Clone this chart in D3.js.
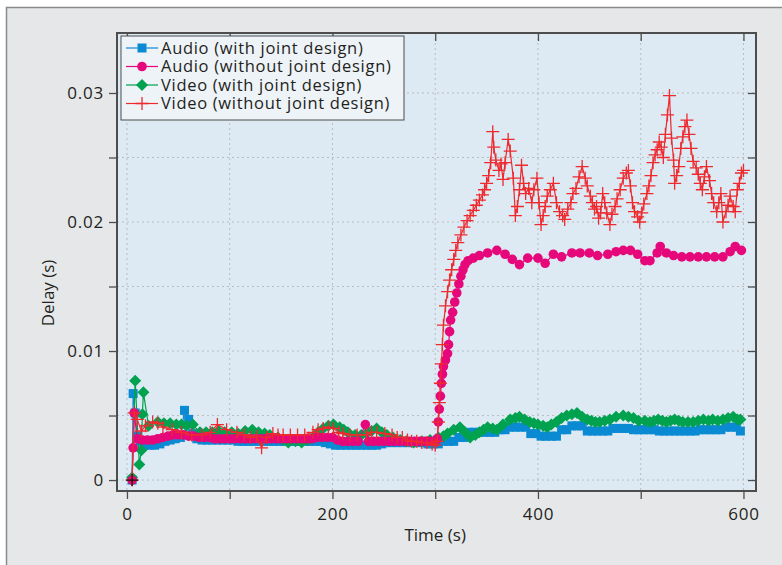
<!DOCTYPE html>
<html>
<head>
<meta charset="utf-8">
<script src="https://cdn.jsdelivr.net/npm/d3@7"></script>
<style>
  body { margin: 0; background: #fff; }
  svg text { font-family: "Open Sans", "Noto Sans", sans-serif; fill: #231f20; }
</style>
</head>
<body>
<div id="chart"></div>
<script>
// Data: [time (s), delay (s)]
var audioJoint = [
  [5,0],[6,0.0067],[8,0.0052],[10,0.0034],[13,0.003],[17,0.0027],[22,0.0027],[27,0.0027],
  [32,0.0028],[37,0.003],[42,0.0031],[47,0.0032],[52,0.0033],[56,0.0054],[60,0.0047],[64,0.0036],
  [68,0.0032],[73,0.0031],[78,0.0031],[83,0.0031],[88,0.0031],[93,0.0031],[98,0.0031],[103,0.0031],
  [108,0.003],[113,0.003],[118,0.003],[123,0.003],[128,0.003],[133,0.003],[138,0.003],[143,0.003],
  [148,0.003],[153,0.003],[158,0.003],[163,0.003],[168,0.003],[173,0.003],[178,0.003],[183,0.003],
  [188,0.003],[193,0.0029],[198,0.0028],[203,0.0027],[208,0.0027],[213,0.0027],[218,0.0027],
  [223,0.0027],[228,0.0027],[233,0.0027],[238,0.0027],[243,0.0027],[248,0.0028],[253,0.0029],
  [258,0.0029],[263,0.0029],[268,0.0029],[273,0.0029],[278,0.0029],[283,0.0029],[288,0.0029],
  [293,0.0028],[298,0.0028],[303,0.0028],[308,0.003],[313,0.003],[318,0.003],[323,0.0033],
  [328,0.0033],[333,0.0037],[338,0.0037],[343,0.0037],[348,0.0037],[353,0.0037],[358,0.0037],
  [363,0.0039],[368,0.0039],[373,0.0041],[378,0.0041],[383,0.0041],[388,0.0041],[393,0.0036],
  [398,0.0036],[403,0.0034],[408,0.0034],[413,0.0034],[418,0.0034],[423,0.0039],[428,0.0039],
  [433,0.0042],[438,0.0042],[443,0.0042],[448,0.0038],[453,0.0038],[458,0.0038],[463,0.0038],
  [468,0.0038],[473,0.004],[478,0.004],[483,0.004],[488,0.004],[493,0.0039],[498,0.0039],
  [503,0.0039],[508,0.0039],[513,0.0039],[518,0.0038],[523,0.0038],[528,0.0038],[533,0.0038],
  [538,0.0038],[543,0.0038],[548,0.0038],[553,0.0038],[558,0.0039],[563,0.0039],[568,0.0039],
  [573,0.0039],[578,0.0039],[583,0.0041],[588,0.0041],[593,0.0041],[597,0.0038]
];

var audioNoJoint = [
  [5,0],[6,0.0025],[7,0.0052],[10,0.0032],[15,0.0031],[20,0.0031],[25,0.0031],[30,0.0032],
  [35,0.0033],[40,0.0034],[45,0.0035],[50,0.0035],[55,0.0035],[60,0.0034],[65,0.0034],[70,0.0033],
  [75,0.0033],[80,0.0033],[85,0.0032],[90,0.0032],[95,0.0032],[100,0.0032],[105,0.0032],
  [110,0.0032],[115,0.0032],[120,0.0032],[125,0.0032],[130,0.0032],[135,0.0032],[140,0.0032],
  [145,0.0032],[150,0.0032],[155,0.0032],[160,0.0032],[165,0.0032],[170,0.0032],[175,0.0032],
  [180,0.0032],[185,0.0033],[190,0.0033],[195,0.0033],[200,0.0033],[205,0.0031],[210,0.003],
  [215,0.003],[220,0.003],[225,0.003],[232,0.0043],[235,0.003],[240,0.003],[245,0.003],
  [250,0.003],[255,0.003],[260,0.003],[265,0.003],[270,0.003],[275,0.003],[280,0.003],
  [285,0.003],[290,0.003],[295,0.003],[300,0.003],[302,0.0032],[303,0.0045],[304,0.0055],
  [305,0.0065],[306,0.0075],[307,0.0082],[308,0.0088],[310,0.0093],[312,0.0098],[313,0.0105],
  [314,0.0115],[315,0.0124],[317,0.013],[319,0.0138],[321,0.0145],[323,0.0152],[325,0.0158],
  [327,0.0163],[329,0.0167],[332,0.017],[337,0.0172],[343,0.0174],[351,0.0176],[360,0.0178],
  [368,0.0175],[375,0.0171],[382,0.0167],[390,0.0172],[400,0.0172],[407,0.0168],[415,0.0175],
  [423,0.0173],[433,0.0176],[441,0.0176],[450,0.0176],[458,0.0174],[468,0.0175],[476,0.0177],
  [483,0.0178],[490,0.0178],[497,0.0175],[504,0.017],[509,0.017],[516,0.0176],[519,0.0181],
  [525,0.0176],[532,0.0174],[540,0.0173],[548,0.0173],[556,0.0173],[564,0.0173],[572,0.0173],
  [580,0.0173],[587,0.0177],[592,0.0181],[598,0.0178]
];

var videoJoint = [
  [5,0.0002],[8,0.0077],[12,0.0012],[14,0.0023],[15,0.0051],[16,0.0068],[21,0.0042],[30,0.0045],
  [36,0.0044],[42,0.0044],[48,0.0043],[53,0.0043],[58,0.0042],[64,0.0043],[71,0.0037],[77,0.0037],
  [83,0.0037],[89,0.0038],[95,0.0037],[102,0.0037],[108,0.0036],[115,0.0038],[122,0.0039],
  [128,0.0037],[134,0.0036],[139,0.0035],[147,0.0033],[152,0.0031],[157,0.0029],[164,0.003],
  [170,0.0029],[176,0.0031],[181,0.0033],[186,0.0037],[191,0.004],[196,0.0042],[201,0.0043],
  [207,0.0041],[211,0.0039],[215,0.0037],[222,0.0035],[228,0.0035],[233,0.0036],[238,0.0038],
  [243,0.004],[248,0.0037],[253,0.0035],[259,0.0033],[266,0.0031],[272,0.003],[279,0.0029],
  [287,0.003],[295,0.0031],[303,0.0033],[308,0.0034],[312,0.0036],[318,0.0039],[324,0.0041],
  [329,0.0037],[334,0.0033],[339,0.0035],[343,0.0037],[347,0.0039],[351,0.0041],[356,0.004],
  [360,0.0039],[366,0.0043],[373,0.0047],[378,0.0048],[382,0.0049],[387,0.0047],[392,0.0045],
  [396,0.0044],[400,0.0043],[405,0.0042],[409,0.0041],[413,0.0043],[418,0.0045],[423,0.0048],
  [428,0.005],[433,0.0051],[438,0.0052],[443,0.0049],[448,0.0047],[452,0.0046],[456,0.0045],
  [460,0.0045],[465,0.0046],[470,0.0047],[476,0.0049],[483,0.005],[488,0.0049],[493,0.0048],
  [498,0.0046],[504,0.0046],[509,0.0045],[513,0.0046],[517,0.0047],[521,0.0046],[525,0.0045],
  [529,0.0046],[533,0.0047],[537,0.0046],[541,0.0045],[546,0.0045],[551,0.0045],[556,0.0046],
  [561,0.0047],[566,0.0046],[570,0.0047],[575,0.0046],[580,0.0047],[585,0.0048],[590,0.0049],
  [594,0.0047],[597,0.0047]
];

var videoNoJoint = [
  [5,0],[7,0.0052],[10,0.0047],[14,0.0038],[18,0.0042],[25,0.0045],[30,0.0044],[35,0.0041],
  [44,0.0039],[53,0.0037],[63,0.0035],[73,0.0035],[81,0.0037],[88,0.0043],[97,0.0039],
  [107,0.0037],[114,0.0035],[120,0.0033],[126,0.0034],[131,0.0025],[136,0.0033],[142,0.0036],
  [147,0.0035],[152,0.0035],[159,0.0035],[166,0.0035],[173,0.0035],[181,0.0037],[186,0.0039],
  [191,0.004],[196,0.0041],[201,0.004],[206,0.0037],[210,0.0036],[217,0.0035],[224,0.0035],
  [233,0.0035],[238,0.0037],[243,0.0037],[251,0.0036],[258,0.0035],[263,0.0033],[268,0.0033],
  [273,0.0031],[277,0.003],[282,0.003],[287,0.0029],[292,0.0029],[297,0.0028],[300,0.0027],
  [302,0.003],[303,0.0045],[304,0.006],[305,0.0075],[306,0.009],[307,0.0105],[308,0.012],
  [310,0.0135],[312,0.0146],[314,0.0155],[316,0.0163],[318,0.0171],[320,0.0178],[322,0.0184],
  [325,0.019],[328,0.0196],[331,0.0201],[334,0.0205],[337,0.0209],[340,0.0213],[343,0.0217],
  [346,0.0221],[348,0.0225],[350,0.023],[352,0.0236],[354,0.0246],[356,0.027],[357,0.0258],
  [359,0.0248],[362,0.024],[364,0.0245],[366,0.0233],[368,0.0246],[371,0.0264],[373,0.0255],
  [376,0.0234],[378,0.0205],[380,0.0212],[382,0.0225],[384,0.0244],[386,0.023],[388,0.0222],
  [391,0.0226],[394,0.0215],[396,0.0225],[399,0.0234],[401,0.0215],[403,0.0198],[405,0.0205],
  [407,0.0212],[409,0.022],[412,0.0225],[415,0.023],[418,0.0215],[421,0.0208],[424,0.0205],
  [426,0.0202],[429,0.021],[432,0.0215],[434,0.0222],[437,0.0226],[440,0.0235],[443,0.0243],
  [446,0.0234],[448,0.0228],[451,0.022],[453,0.0215],[455,0.021],[457,0.0212],[459,0.0203],
  [461,0.0207],[463,0.0222],[465,0.0215],[467,0.0207],[470,0.0198],[472,0.0206],[475,0.0212],
  [477,0.0218],[480,0.0225],[483,0.0234],[486,0.0238],[488,0.024],[490,0.0228],[492,0.0215],
  [494,0.0208],[497,0.0204],[499,0.02],[501,0.0207],[503,0.0214],[506,0.0222],[508,0.0228],
  [510,0.0236],[512,0.0246],[514,0.0252],[516,0.0256],[518,0.0262],[520,0.0258],[522,0.025],
  [524,0.0268],[526,0.0283],[528,0.0298],[530,0.0265],[532,0.0248],[533,0.023],[535,0.0236],
  [537,0.0243],[539,0.0257],[541,0.0266],[543,0.0274],[545,0.0279],[547,0.0268],[549,0.0257],
  [551,0.0247],[554,0.0242],[556,0.0237],[558,0.023],[560,0.0225],[562,0.0235],[564,0.0243],
  [567,0.0232],[569,0.0222],[571,0.0215],[574,0.0208],[576,0.0215],[578,0.0222],[580,0.02],
  [583,0.0208],[585,0.0213],[587,0.022],[590,0.0212],[592,0.0208],[594,0.0225],[596,0.023],
  [598,0.0238],[600,0.024]
];

var seriesNames = ["Audio (with joint design)", "Audio (without joint design)",
                   "Video (with joint design)", "Video (without joint design)"];
var xTicks = [0, 100, 200, 300, 400, 500, 600];
var yTicks = [0, 0.005, 0.01, 0.015, 0.02, 0.025, 0.03];

// Canvas and plot box
var W = 782, H = 565;
var margin = {top: 33, right: 26, bottom: 74, left: 117},
    width = W - margin.left - margin.right,
    height = H - margin.top - margin.bottom;

var svg = d3.select("#chart").append("svg")
    .attr("width", W)
    .attr("height", H);

// grey outer panel
svg.append("rect")
    .attr("x", 6.5).attr("y", 7.5)
    .attr("width", W).attr("height", H)
    .attr("fill", "#e6e7e8")
    .attr("stroke", "#8a8a8a")
    .attr("stroke-width", 1.5);

var g = svg.append("g")
    .attr("transform", "translate(" + margin.left + "," + margin.top + ")");

var x = d3.scaleLinear().domain([-9.7, 612.2]).range([0, width]);
var y = d3.scaleLinear().domain([-0.00085, 0.03465]).range([height, 0]);

g.append("rect")
    .attr("width", width).attr("height", height)
    .attr("fill", "#ddeaf3");

// dotted grid
g.append("g").selectAll("line").data(xTicks).enter().append("line")
    .attr("x1", function(d) { return x(d); }).attr("x2", function(d) { return x(d); })
    .attr("y1", 0).attr("y2", height)
    .attr("stroke", "#b9bcbf").attr("stroke-width", 1)
    .attr("stroke-dasharray", "2,3");
g.append("g").selectAll("line").data(yTicks).enter().append("line")
    .attr("x1", 0).attr("x2", width)
    .attr("y1", function(d) { return y(d); }).attr("y2", function(d) { return y(d); })
    .attr("stroke", "#b9bcbf").attr("stroke-width", 1)
    .attr("stroke-dasharray", "2,3");

// Axes
function fmtX(d) { return d % 200 === 0 ? d : ""; }
function fmtY(d) { return Math.round(d * 1000) % 10 === 0 ? (d === 0 ? "0" : d3.format(".2f")(d)) : ""; }

g.append("g")
    .attr("transform", "translate(0," + height + ")")
    .call(d3.axisBottom(x).tickValues(xTicks).tickFormat(fmtX).tickSize(8).tickPadding(9));
g.append("g")
    .call(d3.axisLeft(y).tickValues(yTicks).tickFormat(fmtY).tickSize(8).tickPadding(5));
g.append("g")
    .call(d3.axisTop(x).tickValues(xTicks).tickFormat("").tickSize(-8));
g.append("g")
    .attr("transform", "translate(" + width + ",0)")
    .call(d3.axisRight(y).tickValues(yTicks).tickFormat("").tickSize(-8));

g.selectAll(".domain").remove();
g.selectAll(".tick line").attr("stroke", "#4d4d4d").attr("stroke-width", 1.3);
g.selectAll(".tick text")
    .style("font-size", "17px")
    .style("letter-spacing", "0.8px")
    .attr("fill", "#231f20");

// Series
var styles = [
  {data: audioJoint, color: "#0a8ad3", mark: "square"},
  {data: videoJoint, color: "#00a24f", mark: "diamond"},
  {data: audioNoJoint, color: "#e6087b", mark: "circle"},
  {data: videoNoJoint, color: "#ee2a2f", mark: "cross"}
];

var line = d3.line()
    .x(function(d) { return x(d[0]); })
    .y(function(d) { return y(d[1]); });

var plot = g.append("g");

function drawMark(sel, mark, color) {
  if (mark === "square") {
    sel.append("rect").attr("x", -4.5).attr("y", -4.5).attr("width", 9).attr("height", 9)
      .attr("fill", color);
  } else if (mark === "circle") {
    sel.append("circle").attr("r", 4.8).attr("fill", color);
  } else if (mark === "diamond") {
    sel.append("path").attr("d", "M0,-6L6,0L0,6L-6,0Z").attr("fill", color);
  } else {
    sel.append("path").attr("d", "M-6.5,0H6.5M0,-6.5V6.5")
      .attr("stroke", color).attr("stroke-width", 1.3).attr("fill", "none");
  }
}

styles.forEach(function(s) {
  plot.append("path")
      .datum(s.data)
      .attr("fill", "none")
      .attr("stroke", s.color)
      .attr("stroke-width", 1.2)
      .attr("d", line);
  var pts = plot.append("g").selectAll("g")
      .data(s.data)
      .enter().append("g")
      .attr("transform", function(d) { return "translate(" + x(d[0]) + "," + y(d[1]) + ")"; });
  drawMark(pts, s.mark, s.color);
});

// the black start marker at the origin
plot.append("path")
    .attr("transform", "translate(" + x(videoNoJoint[0][0]) + "," + y(videoNoJoint[0][1]) + ")")
    .attr("d", "M-6,0H6M0,-6V6")
    .attr("stroke", "#111").attr("stroke-width", 1.3);

// plot frame
g.append("rect")
    .attr("width", width).attr("height", height)
    .attr("fill", "none")
    .attr("stroke", "#4d4d4d")
    .attr("stroke-width", 2);

// Axis labels
g.append("text")
    .attr("x", x(300))
    .attr("y", height + 50)
    .attr("text-anchor", "middle")
    .style("font-size", "17px")
    .text("Time (s)");
g.append("text")
    .attr("transform", "rotate(-90)")
    .attr("x", -y(0.0145))
    .attr("y", -63)
    .attr("text-anchor", "middle")
    .style("font-size", "17px")
    .text("Delay (s)");

// Legend
var legend = g.append("g").attr("transform", "translate(4,3)");
legend.append("rect")
    .attr("width", 283).attr("height", 84)
    .attr("fill", "#eef3f8")
    .attr("stroke", "#4d4d4d").attr("stroke-width", 1);

var legendOrder = [
  {color: "#0a8ad3", mark: "square"},
  {color: "#e6087b", mark: "circle"},
  {color: "#00a24f", mark: "diamond"},
  {color: "#ee2a2f", mark: "cross"}
];
legendOrder.forEach(function(s, i) {
  var row = legend.append("g").attr("transform", "translate(0," + (12 + i * 18.5) + ")");
  row.append("line").attr("x1", 5).attr("x2", 37)
     .attr("stroke", s.color).attr("stroke-width", 1.2);
  drawMark(row.append("g").attr("transform", "translate(21,0)"), s.mark, s.color);
  row.append("text").attr("x", 40).attr("dy", "0.35em")
     .style("font-size", "16.5px")
     .style("letter-spacing", "0.7px")
     .text(seriesNames[i]);
});
</script>
</body>
</html>
